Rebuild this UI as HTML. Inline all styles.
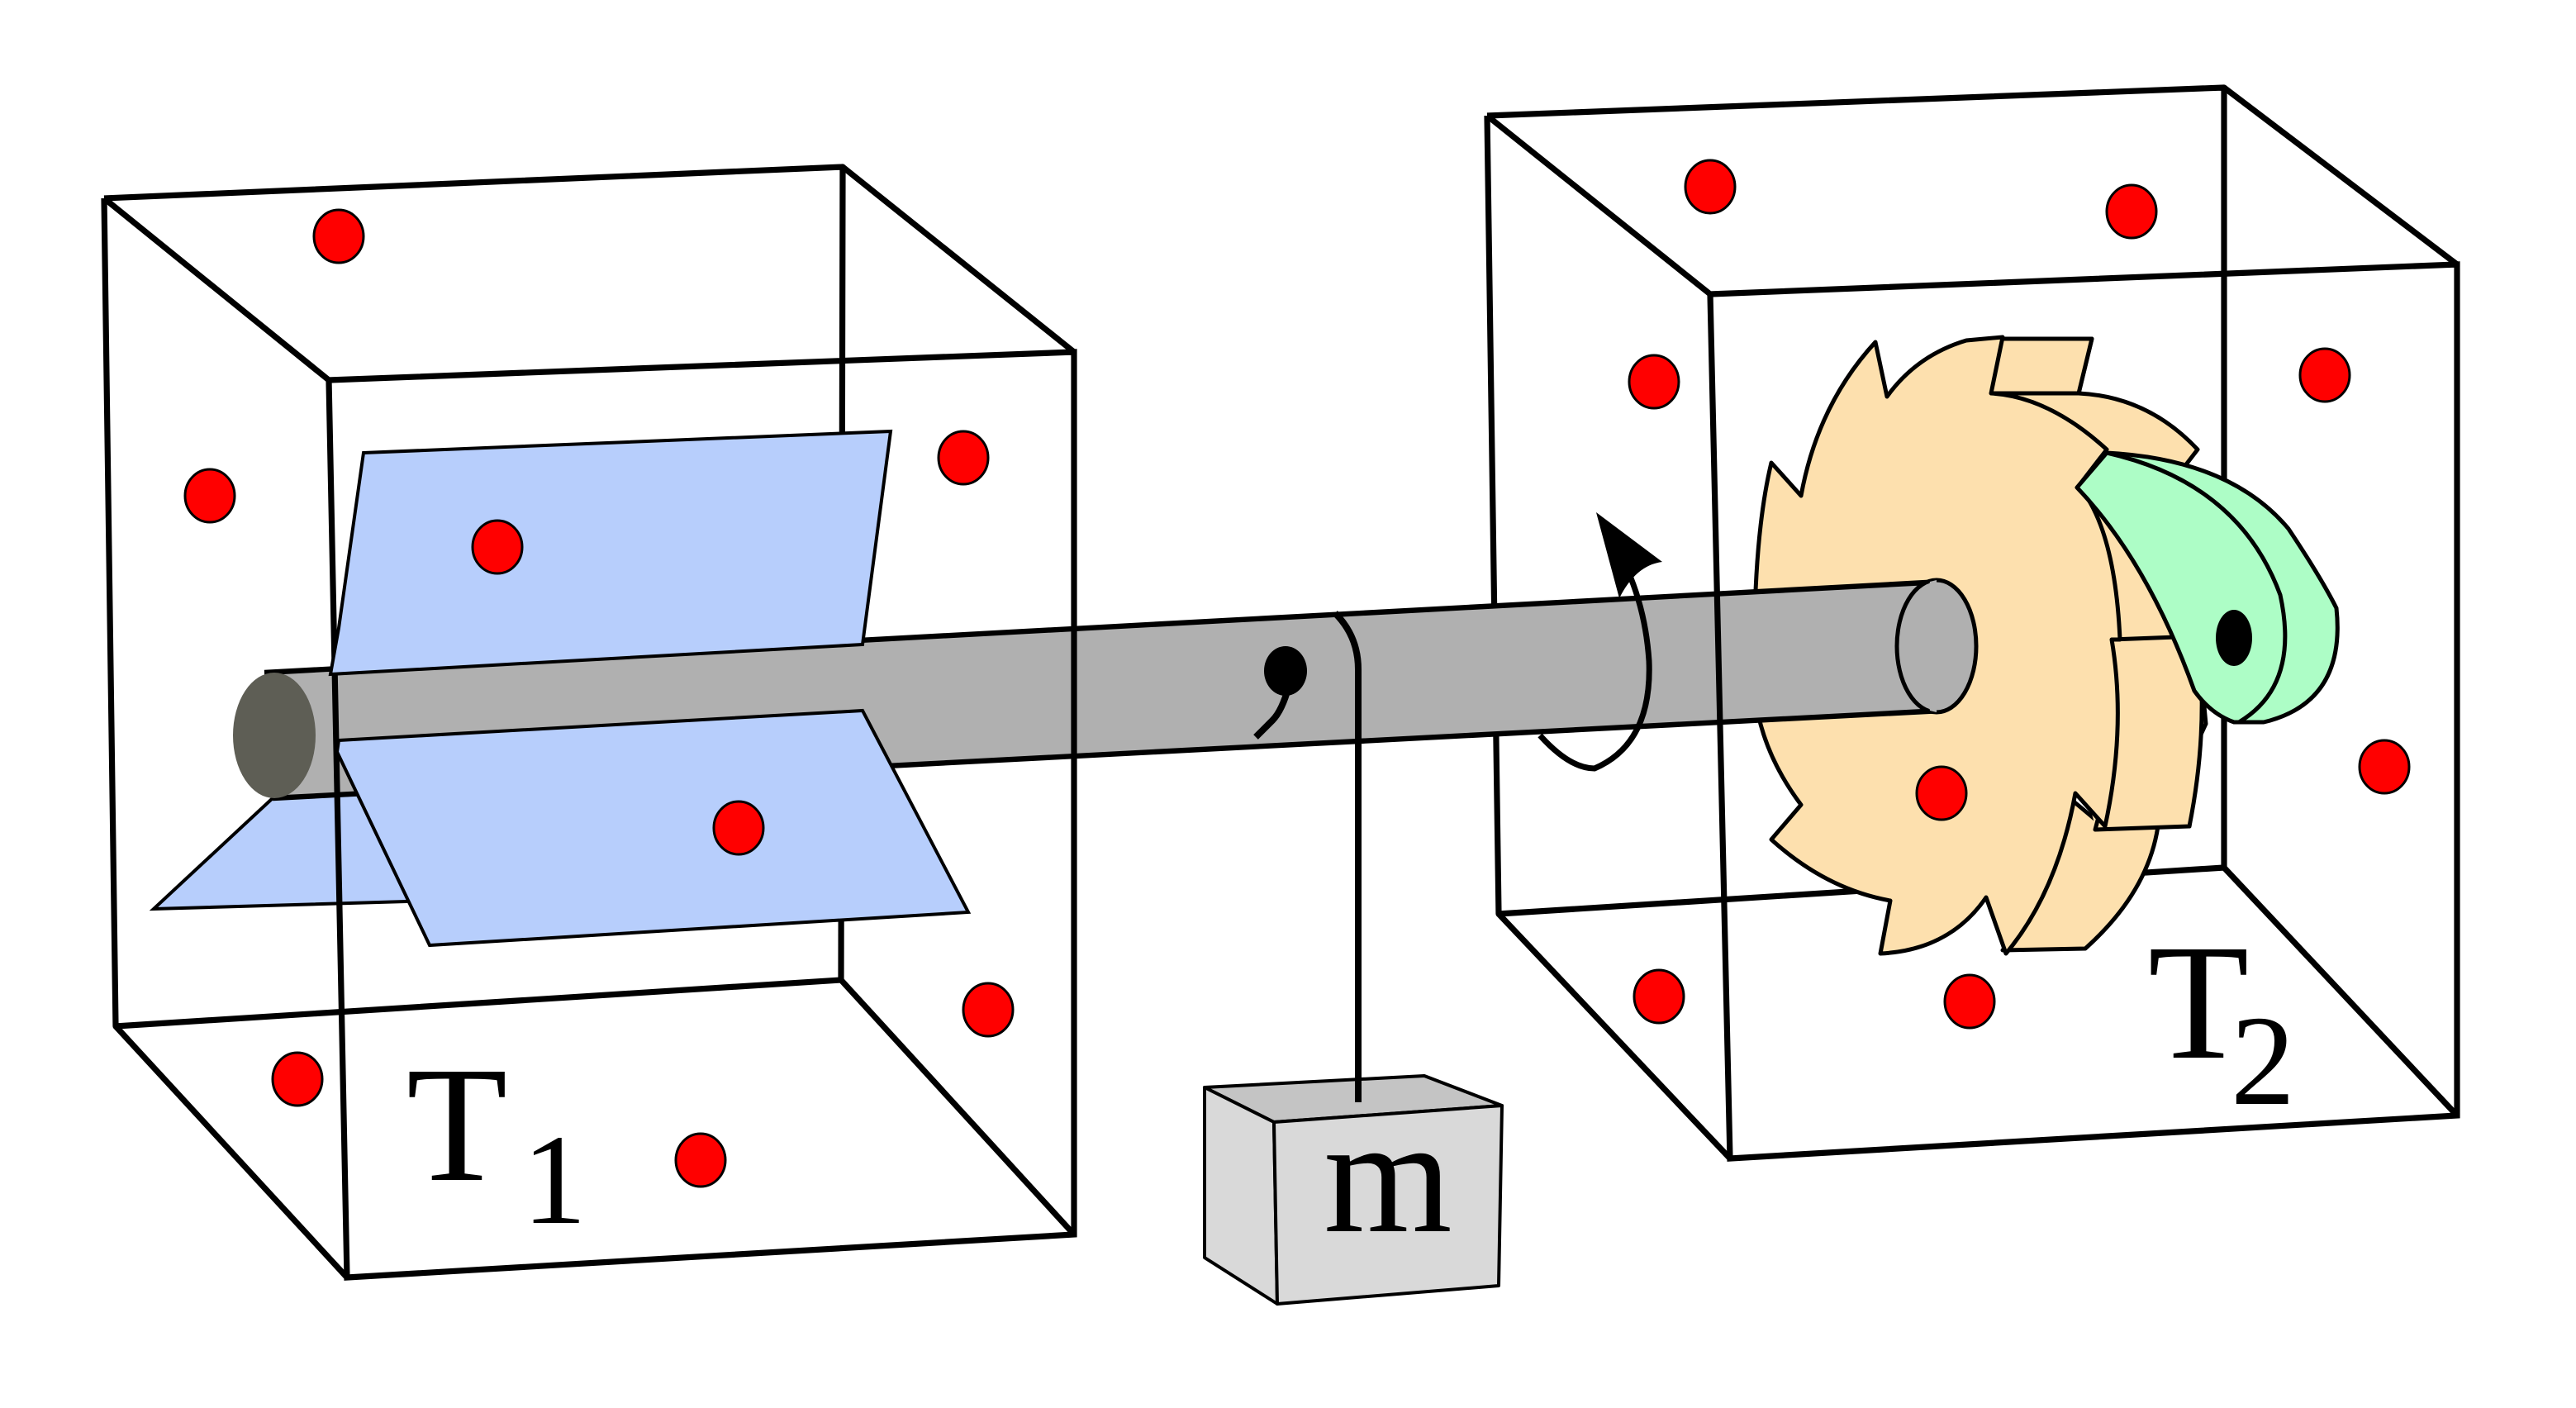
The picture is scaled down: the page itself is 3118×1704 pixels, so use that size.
<!DOCTYPE html>
<html><head><meta charset="utf-8"><style>
html,body{margin:0;padding:0;background:#fff;}
svg{display:block;}
text{font-family:"Liberation Serif",serif;fill:#000;}
</style></head><body>
<svg width="3118" height="1704" viewBox="0 0 1559 852" xmlns="http://www.w3.org/2000/svg">
<rect width="1559" height="852" fill="#fff"/>
<g stroke="#000" stroke-width="3.6" fill="none" stroke-linejoin="round">
<polyline points="63,120 510,101 509,593"/>
<polyline points="63,120 70,621 509,593"/>
<line x1="63" y1="120" x2="199" y2="230"/>
<line x1="510" y1="101" x2="650" y2="213"/>
<line x1="70" y1="621" x2="210" y2="773"/>
<line x1="509" y1="593" x2="650" y2="747"/>
<polyline points="900,70 1346,53 1346,525"/>
<polyline points="900,70 907,553 1346,525"/>
<line x1="900" y1="70" x2="1035" y2="178"/>
<line x1="1346" y1="53" x2="1487" y2="160"/>
<line x1="907" y1="553" x2="1047" y2="701"/>
<line x1="1346" y1="525" x2="1487" y2="675"/>
</g>
<g fill="#f00" stroke="#000" stroke-width="1.5">
<ellipse cx="205" cy="143" rx="15" ry="16"/>
<ellipse cx="127" cy="300" rx="15" ry="16"/>
<ellipse cx="583" cy="277" rx="15" ry="16"/>
<ellipse cx="598" cy="611" rx="15" ry="16"/>
<ellipse cx="180" cy="653" rx="15" ry="16"/>
<ellipse cx="424" cy="702" rx="15" ry="16"/>
<ellipse cx="1035" cy="113" rx="15" ry="16"/>
<ellipse cx="1290" cy="128" rx="15" ry="16"/>
<ellipse cx="1001" cy="231" rx="15" ry="16"/>
<ellipse cx="1407" cy="227" rx="15" ry="16"/>
<ellipse cx="1443" cy="464" rx="15" ry="16"/>
<ellipse cx="1004" cy="603" rx="15" ry="16"/>
<ellipse cx="1192" cy="606" rx="15" ry="16"/>
</g>
<polygon points="93,550 165,483 235,480 262,545" fill="#b7cefc" stroke="#000" stroke-width="2"/>
<g fill="#fde0ae" stroke="#000" stroke-width="2.5" stroke-linejoin="round">
<path d="M1206,205 L1266,205 L1258,238 Q1300,240 1330,272 L1320,285 Q1340,390 1325,500 L1306,500 Q1300,540 1262,574 L1212,575 Q1240,540 1255,485 L1273,500 Q1285,440 1278,387 L1330,385 L1335,438 L1306,500 Z"/>
<path d="M1198,237 Q1240,238 1275,272 L1320,285 Q1340,390 1325,500 L1268,500 Z" stroke="none"/>
<path d="M1206,205 L1266,205 L1258,238 L1198,238 Z"/>
<path d="M1278,387 L1330,385 Q1337,440 1325,500 L1268,502 Q1285,440 1278,387 Z"/>
<path d="M1135,207 L1142,240 Q1160,215 1190,206 L1212,204 L1205,238 Q1240,240 1275,272 L1258,294 Q1280,320 1283,387 L1278,387 Q1287,440 1274,500 L1256,480 Q1245,540 1214,577 L1202,543 Q1180,575 1138,577 L1144,545 Q1105,538 1072,508 L1090,487 Q1066,455 1062,420 Q1060,330 1072,280 L1090,300 Q1100,245 1135,207 Z"/>
</g>
<path d="M165,407 L1175,352 L1175,430 L165,483 Z" fill="#b0b0b0"/>
<line x1="160" y1="407" x2="1175" y2="352" stroke="#000" stroke-width="3.2"/>
<line x1="165" y1="483" x2="1175" y2="430" stroke="#000" stroke-width="3.2"/>
<ellipse cx="1172" cy="391" rx="24" ry="40" fill="#b0b0b0" stroke="#000" stroke-width="2.5"/>
<path d="M1168,352 Q1160,391 1168,430 L1172,431 L1172,351 Z" fill="#b0b0b0"/>
<ellipse cx="166" cy="445" rx="25" ry="38" fill="#5e5e55"/>
<g stroke="#000" stroke-width="3.6" fill="none">
<polyline points="199,230 650,213 650,747 210,773 199,230"/>
</g>
<polygon points="220,274 539,261 522,390 200,408 205,380" fill="#b7cefc" stroke="#000" stroke-width="2"/>
<polygon points="205,448 522,430 586,552 260,572 204,455" fill="#b7cefc" stroke="#000" stroke-width="2"/>
<g fill="#f00" stroke="#000" stroke-width="1.5">
<ellipse cx="301" cy="331" rx="15" ry="16"/>
<ellipse cx="447" cy="501" rx="15" ry="16"/>
<ellipse cx="1175" cy="480" rx="15" ry="16"/>
</g>
<g stroke="#000" stroke-width="3.6" fill="none">
<polyline points="1035,178 1487,160 1487,675 1047,701 1035,178"/>
</g>
<path d="M1257,295 L1275,274 Q1350,278 1385,320 Q1405,350 1414,368 Q1420,425 1370,437 L1352,437 Q1338,432 1328,418 Q1300,340 1257,295 Z" fill="#adfdc6" stroke="#000" stroke-width="2.5" stroke-linejoin="round"/>
<path d="M1275,274 Q1355,292 1380,360 Q1392,415 1355,437" fill="none" stroke="#000" stroke-width="2.5"/>
<ellipse cx="1352" cy="386" rx="11" ry="17" fill="#000"/>
<ellipse cx="778" cy="406" rx="13" ry="15" fill="#000"/>
<path d="M780,415 Q776,430 770,436 L760,446" fill="none" stroke="#000" stroke-width="4"/>
<path d="M808,371 Q822,385 822,405 L822,667" fill="none" stroke="#000" stroke-width="4"/>
<path d="M932,445 Q950,465 965,465 Q1000,450 998,400 Q996,370 985,345" fill="none" stroke="#000" stroke-width="3.5"/>
<path d="M966,310 L1006,340 Q990,342 980,362 Z" fill="#000"/>
<g stroke="#000" stroke-width="2" stroke-linejoin="round">
<polygon points="729,658 862,651 909,669 771,679" fill="#c4c4c4"/>
<polygon points="729,658 771,679 773,789 729,761" fill="#d9d9d9"/>
<polygon points="771,679 909,669 907,778 773,789" fill="#d9d9d9"/>
</g>
<line x1="822" y1="640" x2="822" y2="667" stroke="#000" stroke-width="4"/>
<text x="840" y="745" font-size="100" text-anchor="middle">m</text>
<text x="246" y="714" font-size="100">T</text>
<text x="316" y="740" font-size="78">1</text>
<text x="1300" y="640" font-size="100">T</text>
<text x="1350" y="668" font-size="78">2</text>
</svg>
</body></html>
